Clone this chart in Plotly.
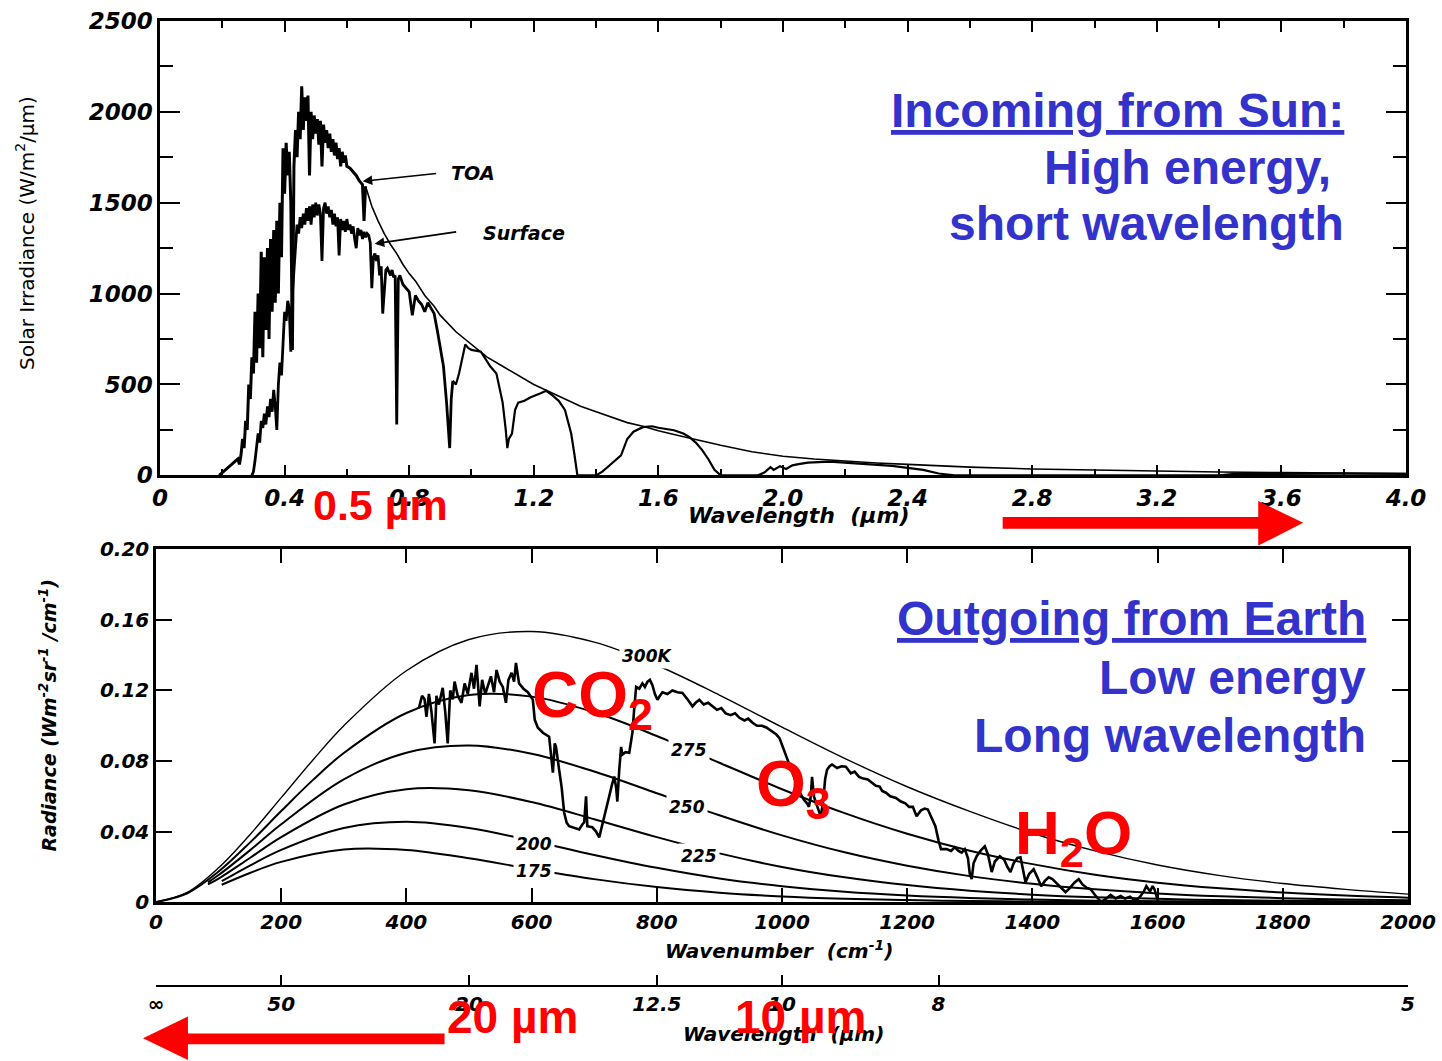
import plotly.graph_objects as go

# ---------------- data: top panel (solar spectrum) ----------------
toa_wl = [0.19, 0.20, 0.21, 0.22, 0.23, 0.24, 0.25, 0.255, 0.26, 0.265, 0.27, 0.275, 0.28, 0.285,
          0.29, 0.295, 0.30, 0.305, 0.31, 0.315, 0.32, 0.325, 0.33, 0.335, 0.34, 0.345, 0.35, 0.355,
          0.36, 0.365, 0.37, 0.375, 0.38, 0.385, 0.39, 0.395, 0.40, 0.405, 0.41, 0.415, 0.42, 0.425,
          0.43, 0.435, 0.44, 0.445, 0.45, 0.455, 0.46, 0.465, 0.47, 0.475, 0.48, 0.485, 0.49, 0.495,
          0.50, 0.505, 0.51, 0.515, 0.52, 0.525, 0.53, 0.535, 0.54, 0.545, 0.55, 0.555, 0.56, 0.565,
          0.57, 0.575, 0.58, 0.585, 0.59, 0.595, 0.60, 0.61, 0.62, 0.63, 0.64, 0.65, 0.655, 0.66,
          0.68, 0.70, 0.72, 0.74, 0.76, 0.78, 0.80, 0.82, 0.85, 0.88, 0.90, 0.95, 1.00, 1.05, 1.10,
          1.15, 1.20, 1.25, 1.30, 1.35, 1.40, 1.45, 1.50, 1.55, 1.60, 1.65, 1.70, 1.75, 1.80, 1.90,
          2.00, 2.10, 2.20, 2.30, 2.40, 2.60, 2.80, 3.00, 3.20, 3.40, 3.60, 3.80, 4.00]
toa_irr = [0, 15, 30, 45, 60, 70, 90, 60, 110, 200, 150, 300, 250, 500,
           420, 650, 560, 900, 620, 1000, 700, 1230, 650, 1200, 800, 1250, 750, 1300,
           900, 1350, 950, 1400, 1000, 1500, 1200, 1800, 1550, 1830, 1650, 1780, 1500, 690,
           1700, 1900, 1750, 2000, 1850, 2140, 1900, 2080, 1950, 2090, 1650, 2000, 1850, 1980,
           1880, 1960, 1820, 1950, 1700, 1930, 1830, 1900, 1800, 1880, 1780, 1850, 1760, 1830,
           1740, 1800, 1700, 1780, 1720, 1760, 1700, 1690, 1670, 1650, 1620, 1600, 1400, 1590,
           1480, 1400, 1330, 1270, 1220, 1160, 1110, 1070, 990, 930, 880, 790, 720, 650, 600,
           550, 500, 460, 420, 380, 350, 320, 290, 270, 245, 225, 205, 185, 165, 130,
           105, 90, 78, 68, 60, 45, 35, 28, 23, 18, 15, 12, 10]

sfc_wl = [0.295, 0.30, 0.305, 0.31, 0.315, 0.32, 0.325, 0.33, 0.335, 0.34, 0.345, 0.35, 0.355, 0.36,
          0.365, 0.37, 0.375, 0.38, 0.385, 0.39, 0.395, 0.40, 0.405, 0.41, 0.415, 0.42, 0.425, 0.43,
          0.435, 0.44, 0.445, 0.45, 0.455, 0.46, 0.465, 0.47, 0.475, 0.48, 0.485, 0.49, 0.495, 0.50,
          0.505, 0.51, 0.515, 0.52, 0.525, 0.53, 0.535, 0.54, 0.545, 0.55, 0.555, 0.56, 0.565, 0.57,
          0.575, 0.58, 0.585, 0.59, 0.595, 0.60, 0.605, 0.61, 0.615, 0.62, 0.625, 0.63, 0.635, 0.64,
          0.645, 0.65, 0.655, 0.66, 0.665, 0.67, 0.675, 0.68, 0.685, 0.69, 0.695, 0.70, 0.705, 0.71,
          0.715, 0.72, 0.725, 0.73, 0.74, 0.745, 0.75, 0.755, 0.76, 0.765, 0.77, 0.78, 0.79, 0.80,
          0.81, 0.82, 0.83, 0.84, 0.85, 0.86, 0.87, 0.88, 0.89, 0.90, 0.91, 0.92, 0.93, 0.935, 0.94,
          0.95, 0.96, 0.97, 0.98, 0.99, 1.00, 1.03, 1.06, 1.08, 1.10, 1.11, 1.115, 1.12, 1.13, 1.14,
          1.15, 1.17, 1.19, 1.22, 1.24, 1.26, 1.28, 1.30, 1.31, 1.32, 1.33, 1.34, 1.40, 1.42, 1.44,
          1.46, 1.48, 1.50, 1.52, 1.55, 1.58, 1.60, 1.62, 1.65, 1.68, 1.70, 1.72, 1.74, 1.76, 1.78,
          1.80, 1.92, 1.94, 1.96, 1.97, 1.99, 2.01, 2.03, 2.05, 2.08, 2.15, 2.25, 2.35, 2.45, 2.50,
          2.55, 3.40, 3.45, 3.60, 3.80, 4.00]
sfc_irr = [0, 20, 80, 150, 230, 180, 300, 260, 340, 280, 380, 320, 420, 350,
           470, 380, 250, 500, 620, 550, 700, 900, 850, 960, 920, 680, 1000, 1150,
           1280, 1380, 1330, 1420, 1360, 1440, 1380, 1470, 1400, 1480, 1380, 1490, 1420, 1500,
           1430, 1490, 1440, 1180, 1470, 1500, 1440, 1480, 1420, 1460, 1380, 1440, 1370, 1420,
           1210, 1410, 1350, 1400, 1340, 1410, 1350, 1380, 1330, 1370, 1300, 1250, 1360, 1320,
           1350, 1300, 1340, 1310, 1330, 1320, 1280, 1030, 1200, 1220, 1180, 1210, 1100, 1150,
           890, 1000, 1130, 1140, 1100, 1130, 1090, 1100, 280, 1080, 1100, 1050, 1030, 1010,
           880, 990, 960, 940, 900, 950, 920, 890, 800, 690, 600, 400, 150, 420, 520,
           500, 560, 650, 720, 700, 690, 680, 600, 560, 400, 250, 150, 200, 230, 360,
           400, 410, 430, 450, 465, 440, 410, 360, 300, 230, 120, 0, 0, 20, 50,
           80, 110, 200, 240, 265, 270, 262, 258, 248, 230, 210, 180, 140, 90, 30,
           0, 0, 15, 45, 30, 50, 35, 55, 62, 70, 75, 65, 52, 30, 10,
           0, 0, 8, 10, 9, 8]

top_xticks = [0, 0.4, 0.8, 1.2, 1.6, 2.0, 2.4, 2.8, 3.2, 3.6, 4.0]
top_xtext = ["0", "0.4", "0.8", "1.2", "1.6", "2.0", "2.4", "2.8", "3.2", "3.6", "4.0"]
top_yticks = [0, 500, 1000, 1500, 2000, 2500]
top_ytext = ["0", "500", "1000", "1500", "2000", "2500"]

# ---------------- data: bottom panel (Earth emission) ----------------
bb_nu = [0, 50, 100, 150, 200, 250, 300, 400, 500, 600, 700, 800, 900, 1000, 1100, 1200,
         1300, 1400, 1500, 1600, 1700, 1800, 1900, 2000]
bb_300 = [0, 0.0055, 0.0194, 0.0382, 0.0592, 0.0803, 0.1000, 0.1312, 0.1489, 0.1534, 0.1474,
          0.1343, 0.1174, 0.0992, 0.0815, 0.0654, 0.0514, 0.0390, 0.0290, 0.0210, 0.0150,
          0.0105, 0.0072, 0.0045]
bb_275 = [0, 0.0050, 0.0173, 0.0337, 0.0516, 0.0690, 0.0845, 0.1072, 0.1174, 0.1165, 0.1076,
          0.0942, 0.0790, 0.0640, 0.0504, 0.0387, 0.0291, 0.0215, 0.0155, 0.0110, 0.0078,
          0.0054, 0.0037, 0.0025]
bb_nu_b = [83, 100, 150, 200, 300, 400, 500, 600, 700, 800, 900, 1000, 1100, 1200, 1300, 1400,
           1500, 1600, 1700, 1800, 1900, 2000]
bb_250 = [0.0112, 0.0153, 0.0293, 0.0441, 0.0696, 0.0847, 0.0888, 0.0841, 0.0740, 0.0617,
          0.0492, 0.0378, 0.0282, 0.0206, 0.0147, 0.0104, 0.0072, 0.0049, 0.0033, 0.0022,
          0.0015, 0.0010]
bb_225 = [0.0100, 0.0133, 0.0250, 0.0368, 0.0553, 0.0640, 0.0634, 0.0567, 0.0470, 0.0368,
          0.0276, 0.0199, 0.0140, 0.0096, 0.0064, 0.0042, 0.0027, 0.0018, 0.0011, 0.0007,
          0.0004, 0.0003]
bb_nu_c = [105, 150, 200, 300, 400, 500, 600, 700, 800, 900, 1000, 1100, 1200, 1300, 1400,
           1500, 1600, 1800, 2000]
bb_200 = [0.0118, 0.0207, 0.0296, 0.0420, 0.0455, 0.0420, 0.0348, 0.0267, 0.0194, 0.0134,
          0.0090, 0.0058, 0.0037, 0.0023, 0.0014, 0.0008, 0.0005, 0.0002, 0.0001]
bb_175 = [0.0098, 0.0165, 0.0228, 0.0298, 0.0295, 0.0248, 0.0187, 0.0130, 0.0085, 0.0053,
          0.0032, 0.0019, 0.0011, 0.0006, 0.0003, 0.0002, 0.0001, 0.0000, 0.0000]

spec_nu = [420, 425, 429, 432, 436, 440, 445, 448, 452, 458, 462, 466, 470, 474, 477, 482, 488,
           493, 498, 504, 508, 512, 517, 521, 526, 530, 535, 540, 544, 549, 554, 559, 563, 568,
           572, 575, 580, 587, 594, 602, 605, 610, 618, 628, 631, 634, 637, 639, 644, 648, 652,
           656, 660, 668, 676, 681, 684, 687, 689, 697, 703, 708, 712, 716, 720, 724, 728, 732,
           735, 737, 740, 743, 745, 750, 756, 761, 764, 767, 772, 777, 781, 785, 789, 793, 797,
           801, 805, 809, 817, 825, 833, 841, 849, 857, 862, 868, 875, 882, 889, 896, 903, 910,
           918, 925, 932, 940, 946, 953, 960, 968, 975, 983, 991, 996, 1001, 1005, 1009, 1017,
           1025, 1030, 1035, 1040, 1043, 1046, 1048, 1051, 1054, 1058, 1062, 1066, 1069, 1072,
           1076, 1080, 1088, 1095, 1102, 1110, 1116, 1123, 1130, 1137, 1144, 1150, 1156, 1160,
           1166, 1173, 1182, 1190, 1197, 1203, 1209, 1215, 1222, 1228, 1233, 1239, 1245, 1250,
           1254, 1263, 1270, 1276, 1282, 1287, 1292, 1297, 1300, 1303, 1306, 1311, 1317, 1324,
           1329, 1335, 1340, 1348, 1355, 1360, 1365, 1370, 1376, 1381, 1385, 1389, 1395, 1402,
           1408, 1414, 1420, 1426, 1432, 1440, 1446, 1453, 1460, 1467, 1474, 1480, 1487, 1493,
           1500, 1505, 1510, 1518, 1525, 1533, 1541, 1548, 1556, 1565, 1572, 1578, 1582, 1588,
           1592, 1595, 1598, 1601]
spec_rad = [0.110, 0.117, 0.115, 0.105, 0.118, 0.108, 0.090, 0.117, 0.112, 0.1215, 0.108, 0.090,
            0.120, 0.115, 0.125, 0.117, 0.113, 0.124, 0.118, 0.130, 0.121, 0.1345, 0.111, 0.126,
            0.118, 0.122, 0.128, 0.119, 0.1316, 0.125, 0.122, 0.113, 0.126, 0.130, 0.125, 0.1356,
            0.124, 0.121, 0.119, 0.1147, 0.1034, 0.0989, 0.096, 0.0938, 0.085, 0.0734, 0.090,
            0.088, 0.075, 0.065, 0.0508, 0.045, 0.043, 0.042, 0.0412, 0.044, 0.0452, 0.060,
            0.043, 0.0424, 0.040, 0.0367, 0.043, 0.0486, 0.055, 0.060, 0.066, 0.0712, 0.065,
            0.057, 0.075, 0.088, 0.0836, 0.085, 0.0847, 0.096, 0.110, 0.122, 0.121, 0.124, 0.122,
            0.1249, 0.126, 0.123, 0.118, 0.1147, 0.117, 0.119, 0.118, 0.120, 0.119, 0.1186,
            0.115, 0.111, 0.113, 0.1147, 0.112, 0.113, 0.111, 0.109, 0.110, 0.107, 0.106, 0.107,
            0.1045, 0.103, 0.104, 0.1017, 0.100, 0.100, 0.099, 0.097, 0.095, 0.093, 0.088, 0.084,
            0.0808, 0.073, 0.0655, 0.061, 0.058, 0.056, 0.054, 0.060, 0.071, 0.060, 0.0565,
            0.052, 0.0486, 0.058, 0.070, 0.075, 0.077, 0.078, 0.076, 0.077, 0.0768, 0.073, 0.074,
            0.071, 0.070, 0.0695, 0.0678, 0.066, 0.0655, 0.063, 0.062, 0.060, 0.059, 0.057,
            0.056, 0.054, 0.054, 0.0486, 0.052, 0.053, 0.0525, 0.048, 0.043, 0.035, 0.030, 0.030,
            0.029, 0.031, 0.029, 0.028, 0.030, 0.025, 0.016, 0.013, 0.022, 0.026, 0.029, 0.0316,
            0.027, 0.017, 0.023, 0.026, 0.024, 0.020, 0.017, 0.022, 0.025, 0.0254, 0.018, 0.0113,
            0.016, 0.0186, 0.014, 0.009, 0.012, 0.014, 0.013, 0.010, 0.008, 0.0056, 0.008, 0.011,
            0.013, 0.010, 0.008, 0.0073, 0.004, 0.002, 0.0, 0.002, 0.004, 0.002, 0.0034, 0.002,
            0.003, 0.0006, 0.003, 0.006, 0.009, 0.006, 0.009, 0.0073, 0.003, 0.0]

bot_xticks = [0, 200, 400, 600, 800, 1000, 1200, 1400, 1600, 1800, 2000]
bot_xtext = ["0", "200", "400", "600", "800", "1000", "1200", "1400", "1600", "1800", "2000"]
bot_yticks = [0, 0.04, 0.08, 0.12, 0.16, 0.20]
bot_ytext = ["0", "0.04", "0.08", "0.12", "0.16", "0.20"]
wl_ticks = [0, 200, 500, 800, 1000, 1250, 2000]
wl_text = ["\u221e", "50", "20", "12.5", "10", "8", "5"]

# temperature label placements (wavenumber, radiance)
temp_labels = ["300K", "275", "250", "225", "200", "175"]
temp_lab_nu = [785, 852, 848, 868, 604, 604]
temp_lab_rad = [0.1395, 0.0864, 0.0537, 0.0260, 0.0328, 0.0175]

# ---------------- layout geometry helpers ----------------
FW, FH = 1442, 1061
ML, MR, MT, MB = 156, 32, 6, 75
PW = FW - ML - MR
PH = FH - MT - MB


def pxx(x):
    return (x - ML) / PW


def pyy(y):
    return (FH - MB - y) / PH


TOP_XDOM = [pxx(160), pxx(1408)]
TOP_YDOM = [pyy(469), pyy(9)]


# reference-pixel positions relative to the top panel (ref panel: x 160..1408, y 475..16)
def tpx(p):
    return TOP_XDOM[0] + (p - 160) / 1248 * (TOP_XDOM[1] - TOP_XDOM[0])


def tpy(p):
    return TOP_YDOM[0] + (475 - p) / 459 * (TOP_YDOM[1] - TOP_YDOM[0])


BLUE = "#3333CC"
RED = "#FF0000"
TOPFONT = dict(family="DejaVu Sans", size=23, color="black", style="italic", weight="bold")
TICKFONT = dict(family="DejaVu Sans", size=20, color="black", style="italic", weight="bold")

fig = go.Figure()

# top panel traces (dense, noisy part drawn heavier like the scanned original)
NT = 84   # index where TOA becomes smooth (0.66 um)
NS = 113  # index where surface becomes smoother (0.935 um)
fig.add_trace(go.Scatter(x=toa_wl[:NT], y=toa_irr[:NT], mode="lines",
                         line=dict(color="black", width=3.0), xaxis="x", yaxis="y", name="TOA"))
fig.add_trace(go.Scatter(x=toa_wl[NT - 1:], y=toa_irr[NT - 1:], mode="lines",
                         line=dict(color="black", width=1.6), xaxis="x", yaxis="y", name="TOA"))
fig.add_trace(go.Scatter(x=sfc_wl[:NS], y=sfc_irr[:NS], mode="lines",
                         line=dict(color="black", width=2.8), xaxis="x", yaxis="y", name="Surface"))
fig.add_trace(go.Scatter(x=sfc_wl[NS - 1:], y=sfc_irr[NS - 1:], mode="lines",
                         line=dict(color="black", width=2.2), xaxis="x", yaxis="y", name="Surface"))

# bottom panel traces
bb_sets = [(bb_nu, bb_300, 1.4), (bb_nu, bb_275, 2.0), (bb_nu_b, bb_250, 2.0),
           (bb_nu_b, bb_225, 2.0), (bb_nu_c, bb_200, 2.0), (bb_nu_c, bb_175, 2.0)]
for xs, ys, w in bb_sets:
    fig.add_trace(go.Scatter(x=xs, y=ys, mode="lines", line=dict(color="black", width=w, shape="spline"),
                             xaxis="x2", yaxis="y2"))
fig.add_trace(go.Scatter(x=spec_nu, y=spec_rad, mode="lines", line=dict(color="black", width=2.6),
                         xaxis="x2", yaxis="y2", name="Spectrum"))
# carrier for the wavelength axis
fig.add_trace(go.Scatter(x=[0, 2000], y=[None, None], mode="lines", xaxis="x3", yaxis="y2",
                         hoverinfo="skip"))

axis_common = dict(showline=True, linecolor="black", linewidth=2.5, mirror="ticks", ticks="inside",
                   tickcolor="black", tickwidth=2, showgrid=False, zeroline=False)

fig.update_layout(
    width=FW, height=FH,
    margin=dict(l=ML, r=MR, t=MT, b=MB),
    paper_bgcolor="white", plot_bgcolor="white",
    showlegend=False,
    xaxis=dict(domain=TOP_XDOM, range=[0, 4], anchor="y",
               tickmode="array", tickvals=top_xticks, ticktext=top_xtext, ticklen=11,
               minor=dict(dtick=0.2, tick0=0, ticks="inside", ticklen=7, tickcolor="black", tickwidth=2),
               tickfont=TOPFONT, **axis_common),
    yaxis=dict(domain=TOP_YDOM, range=[0, 2500], anchor="x",
               tickmode="array", tickvals=top_yticks, ticktext=top_ytext, ticklen=20,
               minor=dict(dtick=250, tick0=0, ticks="inside", ticklen=13, tickcolor="black", tickwidth=2),
               tickfont=TOPFONT, **axis_common),
    xaxis2=dict(domain=[0, 1], range=[0, 2000], anchor="y2",
                tickmode="array", tickvals=bot_xticks, ticktext=bot_xtext, ticklen=14,
                tickfont=TICKFONT, **axis_common),
    yaxis2=dict(domain=[pyy(901), pyy(544)], range=[0, 0.2], anchor="x2",
                tickmode="array", tickvals=bot_yticks, ticktext=bot_ytext, ticklen=16,
                tickfont=TICKFONT, **axis_common),
    xaxis3=dict(overlaying="x2", anchor="free", position=0, side="bottom", range=[0, 2000],
                showline=True, linecolor="black", linewidth=2, ticks="inside", ticklen=10,
                tickcolor="black", tickwidth=2, showgrid=False, zeroline=False,
                tickmode="array", tickvals=wl_ticks, ticktext=wl_text, tickfont=TICKFONT),
)

ann = []


def txt(text, x, y, size, color="black", xanchor="center", yanchor="middle", family="DejaVu Sans",
        style="normal", weight="normal", angle=0, top=False):
    d = dict(text=text, showarrow=False, xanchor=xanchor, yanchor=yanchor, textangle=angle,
             xref="paper", yref="paper",
             font=dict(family=family, size=size, color=color, style=style, weight=weight))
    if top:
        d.update(x=tpx(x), y=tpy(y))
    else:
        d.update(x=pxx(x), y=pyy(y))
    ann.append(d)


# axis titles
txt("Solar Irradiance (W/m<sup>2</sup>/\u00b5m)", 25, 230, 20, angle=-90, top=True)
txt("Wavelength  (\u00b5m)", 800, 516, 22, style="italic", weight="bold", top=True)
txt("Radiance (Wm<sup>-2</sup>sr<sup>-1</sup> /cm<sup>-1</sup>)", 48, 712, 19, style="italic", weight="bold", angle=-90)
txt("Wavenumber  (cm<sup>-1</sup>)", 780, 950, 20, style="italic", weight="bold")
txt("Wavelength  (\u00b5m)", 785, 1035, 20, style="italic", weight="bold")

# TOA / Surface labels
txt("TOA", 474, 170, 19, style="italic", weight="bold", top=True)
txt("Surface", 525, 230, 19, style="italic", weight="bold", top=True)
for tip, tail in [((363, 178), (438, 170)), ((375, 241), (458, 229))]:
    ann.append(dict(text="", x=tpx(tip[0]), y=tpy(tip[1]), xref="paper", yref="paper",
                    ax=tail[0] - tip[0], ay=tail[1] - tip[1], showarrow=True, arrowhead=2,
                    arrowsize=1.2, arrowwidth=1.6, arrowcolor="black"))

# temperature labels on curves
for lab, nu, rad in zip(temp_labels, temp_lab_nu, temp_lab_rad):
    ann.append(dict(text=lab, x=nu, y=rad, xref="x2", yref="y2", showarrow=False,
                    bgcolor="white", borderpad=2,
                    font=dict(family="DejaVu Sans", size=17, color="black", style="italic", weight="bold")))

# blue descriptive text
AR = "Liberation Sans"
txt("<u>Incoming from Sun:</u>", 1348, 106, 48, BLUE, xanchor="right", family=AR, weight="bold", top=True)
txt("High energy,", 1335, 164, 48, BLUE, xanchor="right", family=AR, weight="bold", top=True)
txt("short wavelength", 1348, 221, 48, BLUE, xanchor="right", family=AR, weight="bold", top=True)
txt("<u>Outgoing from Earth</u>", 1370, 614, 48, BLUE, xanchor="right", family=AR, weight="bold")
txt("Low energy", 1370, 674, 48, BLUE, xanchor="right", family=AR, weight="bold")
txt("Long wavelength", 1370, 732, 48, BLUE, xanchor="right", family=AR, weight="bold")

# red labels
txt("CO<sub>2</sub>", 531, 695, 64, RED, xanchor="left", family=AR, weight="bold")
txt("O<sub>3</sub>", 755, 786, 64, RED, xanchor="left", family=AR, weight="bold")
txt("H<sub>2</sub>O", 1014, 835, 62, RED, xanchor="left", family=AR, weight="bold")
txt("0.5 \u00b5m", 311, 505, 43, RED, xanchor="left", family=AR, weight="bold", top=True)
txt("20 \u00b5m", 445, 1017, 46, RED, xanchor="left", family=AR, weight="bold")
txt("10 \u00b5m", 734, 1017, 46, RED, xanchor="left", family=AR, weight="bold")

fig.update_layout(annotations=ann)


def poly(points, top=False):
    fx = tpx if top else pxx
    fy = tpy if top else pyy
    path = "M " + " L ".join(f"{fx(x):.5f},{fy(y):.5f}" for x, y in points) + " Z"
    return dict(type="path", path=path, xref="paper", yref="paper", fillcolor=RED,
                line=dict(width=0), layer="above")


fig.update_layout(shapes=[
    poly([(1004, 517), (1260, 517), (1260, 501), (1305, 523), (1260, 546), (1260, 529), (1004, 529)], top=True),
    poly([(445, 1034), (188, 1034), (188, 1017), (143, 1039), (188, 1061), (188, 1045), (445, 1045)]),
])

fig.write_html("out.html")
